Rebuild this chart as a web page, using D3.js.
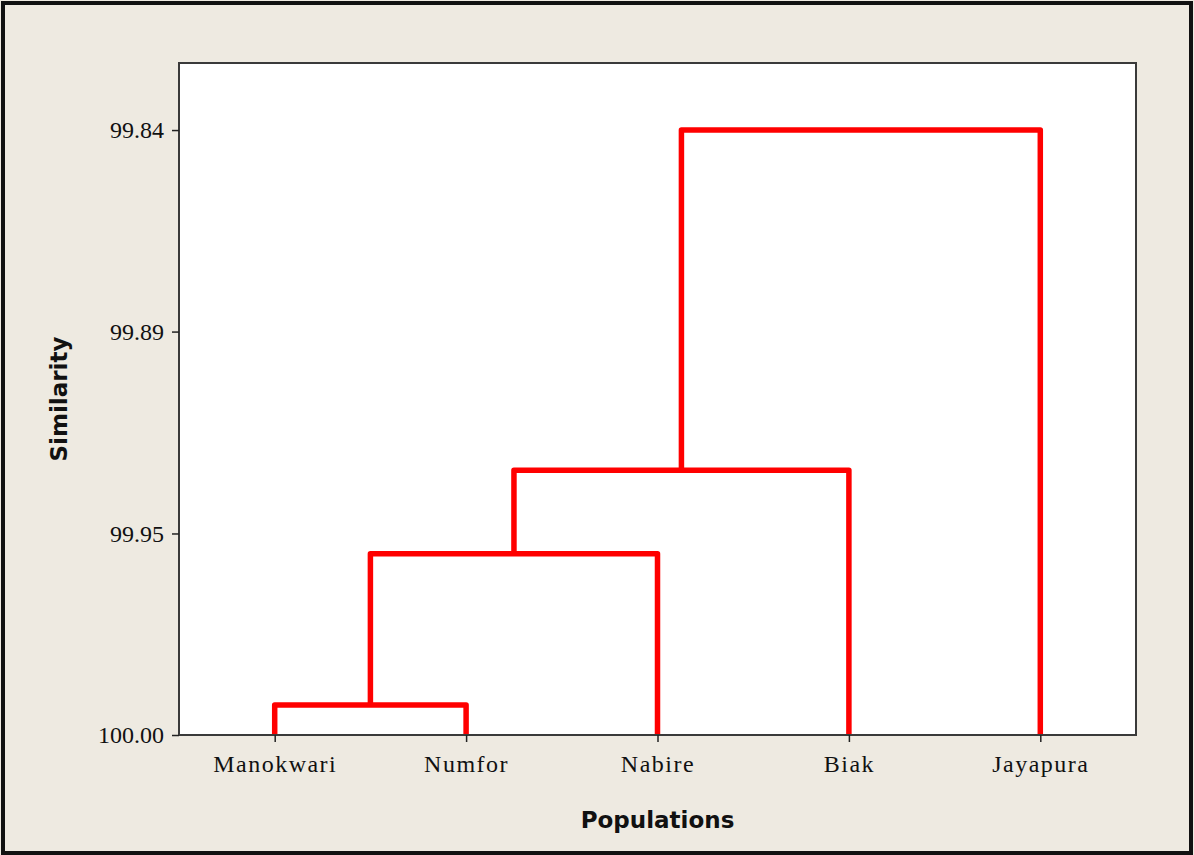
<!DOCTYPE html>
<html>
<head>
<meta charset="utf-8">
<script src="https://cdn.jsdelivr.net/npm/d3@7"></script>
<style>
  html, body { margin: 0; padding: 0; background: #fff; }
  svg { display: block; }
</style>
</head>
<body>
<svg id="chart" width="1194" height="855"></svg>
<script>
// Leaves of the dendrogram, in drawing order
const populations = ["Manokwari", "Numfor", "Nabire", "Biak", "Jayapura"];

// Agglomeration steps: ids 0-4 are leaves, step k creates cluster id 5+k
const joinA = [0, 5, 6, 7];
const joinB = [1, 2, 3, 4];
const joinSimilarity = [99.9919, 99.9511, 99.9285, 99.8367];

// Similarity axis ticks
const similarityTicks = [99.8367, 99.8911, 99.9456, 100.00];
const similarityMin = 99.8186;

const W = 1194, H = 855;
const plot = { left: 179, top: 63, right: 1136, bottom: 735 };

const svg = d3.select("#chart");

// Page background and outer frame
svg.append("rect")
  .attr("x", 0).attr("y", 0).attr("width", W).attr("height", H)
  .attr("fill", "#EEEAE1");
svg.append("rect")
  .attr("x", 3).attr("y", 3).attr("width", W - 6).attr("height", H - 5)
  .attr("fill", "none").attr("stroke", "#111").attr("stroke-width", 4);

// Plot area
svg.append("rect")
  .attr("x", plot.left).attr("y", plot.top)
  .attr("width", plot.right - plot.left).attr("height", plot.bottom - plot.top)
  .attr("fill", "#fff");

const x = d3.scalePoint()
  .domain(populations)
  .range([plot.left, plot.right])
  .padding(0.5);

const y = d3.scaleLinear()
  .domain([similarityMin, 100])
  .range([plot.top, plot.bottom]);

// Node positions: leaves sit at similarity 100
const nodeX = populations.map(p => x(p));
const nodeS = populations.map(() => 100);
joinA.forEach((a, i) => {
  const b = joinB[i];
  nodeX.push((nodeX[a] + nodeX[b]) / 2);
  nodeS.push(joinSimilarity[i]);
});

// Dendrogram links
const links = joinA.map((a, i) => ({ a, b: joinB[i], s: joinSimilarity[i] }));
svg.append("g")
  .selectAll("path")
  .data(links)
  .join("path")
  .attr("d", d => {
    const p = d3.path();
    p.moveTo(nodeX[d.a], y(nodeS[d.a]));
    p.lineTo(nodeX[d.a], y(d.s));
    p.lineTo(nodeX[d.b], y(d.s));
    p.lineTo(nodeX[d.b], y(nodeS[d.b]));
    return p.toString();
  })
  .attr("fill", "none")
  .attr("stroke", "#FF0000")
  .attr("stroke-width", 5.5)
  .attr("stroke-linejoin", "round");

// Plot frame (drawn over the links' feet)
svg.append("rect")
  .attr("x", plot.left).attr("y", plot.top)
  .attr("width", plot.right - plot.left).attr("height", plot.bottom - plot.top)
  .attr("fill", "none").attr("stroke", "#3a3a3a").attr("stroke-width", 2);

// Y axis
const yAxis = svg.append("g")
  .attr("transform", `translate(${plot.left},0)`)
  .call(d3.axisLeft(y)
    .tickValues(similarityTicks)
    .tickFormat(d3.format(".2f"))
    .tickSize(7)
    .tickPadding(8));
yAxis.select(".domain").remove();
yAxis.selectAll(".tick line").attr("stroke", "#222").attr("stroke-width", 1.5);
yAxis.selectAll(".tick text")
  .attr("fill", "#111")
  .style("font-family", "'Liberation Serif', 'Times New Roman', serif")
  .style("font-size", "24px");

// X axis
const xAxis = svg.append("g")
  .attr("transform", `translate(0,${plot.bottom})`)
  .call(d3.axisBottom(x).tickSize(7).tickPadding(13));
xAxis.select(".domain").remove();
xAxis.selectAll(".tick line").attr("stroke", "#222").attr("stroke-width", 1.5);
xAxis.selectAll(".tick text")
  .attr("fill", "#111")
  .style("font-family", "'Liberation Serif', 'Times New Roman', serif")
  .style("font-size", "24px")
  .style("letter-spacing", "1.5px");

// Axis titles
svg.append("text")
  .attr("x", (plot.left + plot.right) / 2)
  .attr("y", 828)
  .attr("text-anchor", "middle")
  .attr("fill", "#111")
  .style("font-family", "'DejaVu Sans', Verdana, sans-serif")
  .style("font-weight", "bold")
  .style("font-size", "23px")
  .text("Populations");

svg.append("text")
  .attr("transform", `translate(67,${(plot.top + plot.bottom) / 2}) rotate(-90)`)
  .attr("text-anchor", "middle")
  .attr("fill", "#111")
  .style("font-family", "'DejaVu Sans', Verdana, sans-serif")
  .style("font-weight", "bold")
  .style("font-size", "23px")
  .text("Similarity");
</script>
</body>
</html>
